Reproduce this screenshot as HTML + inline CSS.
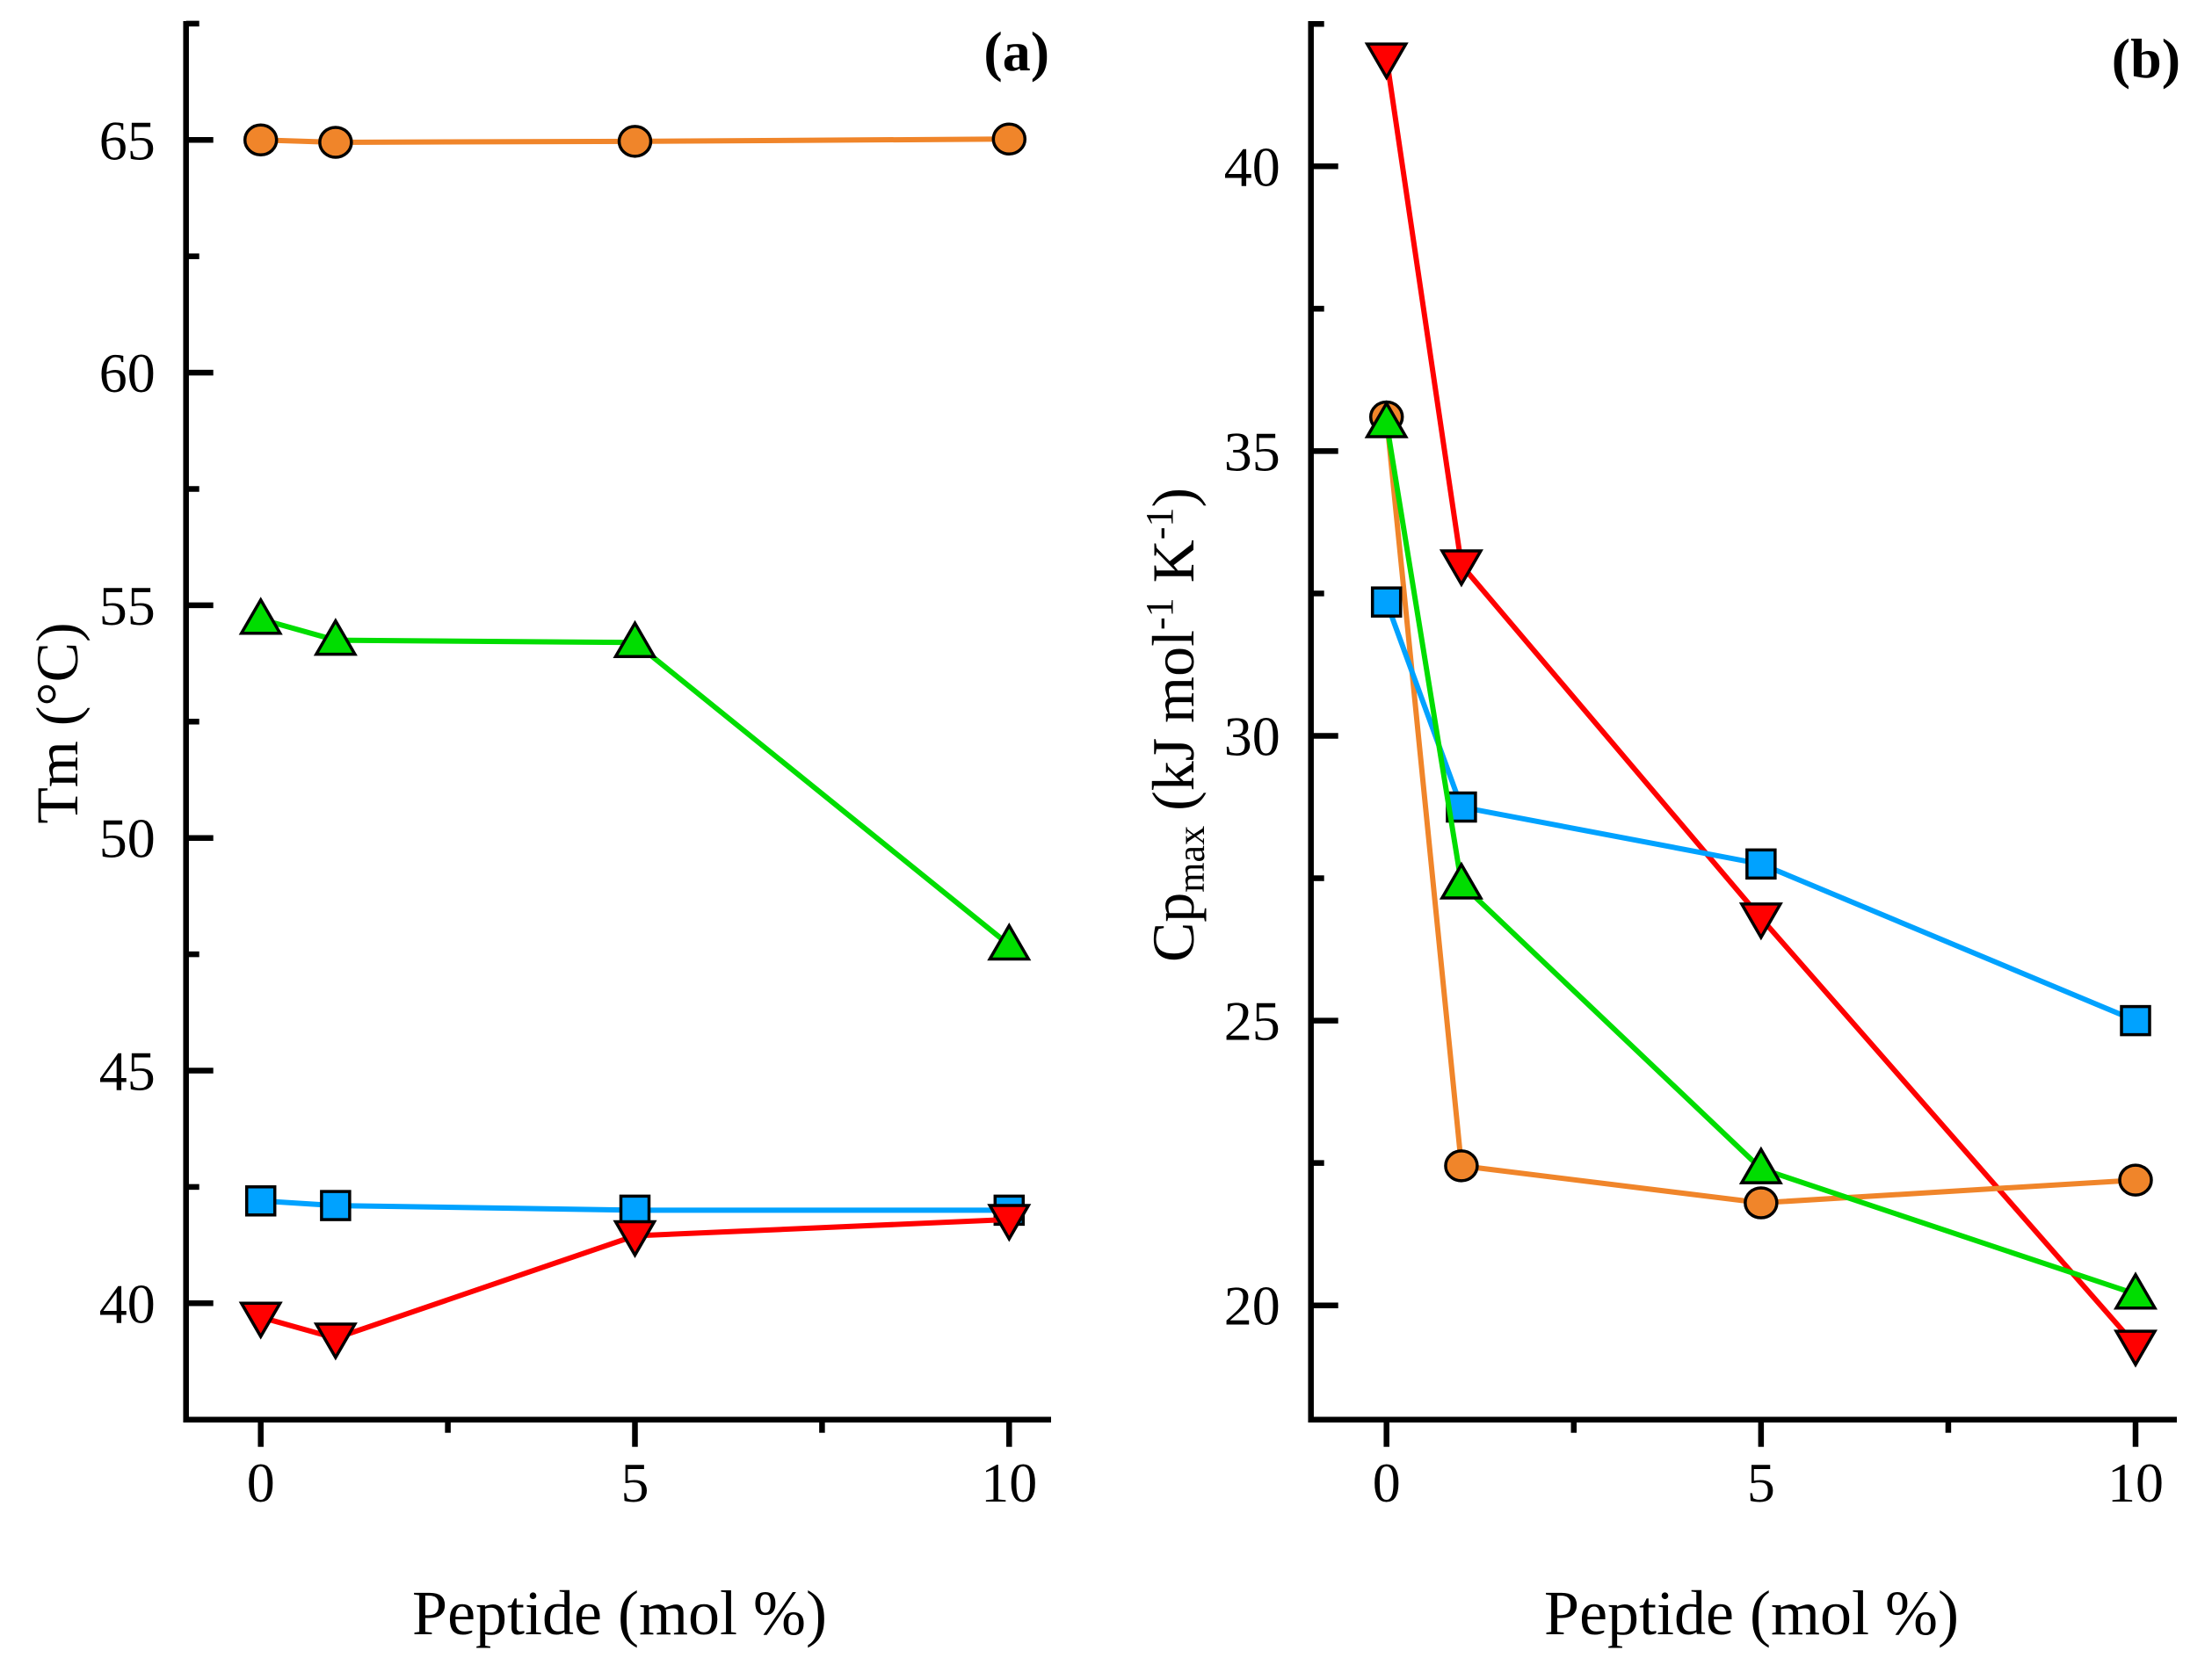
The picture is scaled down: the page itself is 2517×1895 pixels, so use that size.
<!DOCTYPE html>
<html><head><meta charset="utf-8"><style>
html,body{margin:0;padding:0;background:#fff;}
svg{display:block;font-family:"Liberation Serif",serif;}
</style></head><body>
<svg id="chart" width="2517" height="1895" viewBox="0 0 2517 1895" xmlns="http://www.w3.org/2000/svg"></svg>
<script>
const xCats = [0, 1, 5, 10];
const xTickLabels = [0, 5, 10];
const tmTicks = [40, 45, 50, 55, 60, 65];
const cpTicks = [20, 25, 30, 35, 40];
const tmOrange = [65.0, 64.95, 64.97, 65.02];
const tmGreen = [54.7, 54.25, 54.2, 47.7];
const tmBlue = [42.2, 42.1, 42.0, 42.0];
const tmRed = [39.7, 39.25, 41.45, 41.8];
const cpOrange = [35.6, 22.45, 21.8, 22.2];
const cpBlue = [32.35, 28.75, 27.75, 25.0];
const cpGreen = [35.5, 27.4, 22.4, 20.2];
const cpRed = [41.9, 33.0, 26.8, 19.3];

const NS = "http://www.w3.org/2000/svg";
const svg = document.getElementById('chart');
function mk(tag, attrs, parent){
  const e = document.createElementNS(NS, tag);
  for (const k in attrs) e.setAttribute(k, attrs[k]);
  (parent||svg).appendChild(e);
  return e;
}
const COL = {orange:'#F0852A', green:'#00DD00', blue:'#00A2FF', red:'#FF0000'};

function panel(cfg){
  const g = mk('g', {});
  
  
  const X = v => cfg.x0 + (v - 0) * (cfg.x10 - cfg.x0) / 10;
  const Y = v => cfg.yA + (v - cfg.vA) * (cfg.yB - cfg.yA) / (cfg.vB - cfg.vA);
  const ax = mk('path', {d:`M${cfg.axX},${cfg.top} L${cfg.axX},${cfg.bottom} L${cfg.right},${cfg.bottom}`, fill:'none', stroke:'#000', 'stroke-width':6.5}, g);
   
  for (let v = cfg.yMin; v <= cfg.yMax + 1e-6; v += 2.5) {
    if (Y(v) > cfg.bottom - 4 || Y(v) < cfg.top - 4) continue;
    const major = Math.abs(v/5 - Math.round(v/5)) < 1e-6;
    const t = mk('line', {x1:cfg.axX, x2:cfg.axX + (major?31:15), y1:Y(v), y2:Y(v), stroke:'#000', 'stroke-width':6.5}, g);
     
  }
  cfg.yTicks.forEach(v => {
    const t = mk('text', {x:cfg.axX - 35, y:Y(v) + 22, 'text-anchor':'end', 'font-size':64}, g);
    t.textContent = v;
     
  });
  [0, 2.5, 5, 7.5, 10].forEach(v => {
    const major = v % 5 === 0;
    const t = mk('line', {x1:X(v), x2:X(v), y1:cfg.bottom, y2:cfg.bottom + (major?31:15), stroke:'#000', 'stroke-width':6.5}, g);
     
  });
  xTickLabels.forEach(v => {
    const t = mk('text', {x:X(v), y:1709, 'text-anchor':'middle', 'font-size':64}, g);
    t.textContent = v;
     
  });
  const xt = mk('text', {x:cfg.xTitleX, y:1860, 'text-anchor':'middle', 'font-size':72}, g);
  xt.textContent = 'Peptide (mol %)';
   
  const yt = mk('text', {x:0, y:0, 'text-anchor':'middle', 'font-size':68, transform:`translate(${cfg.yTitleX},${cfg.yTitleY}) rotate(-90)`}, g);
  yt.innerHTML = cfg.yTitle;
   
  const pl = mk('text', {x:cfg.labelX, y:cfg.labelY, 'text-anchor':'end', 'font-size':64, 'font-weight':'bold'}, g);
  pl.textContent = cfg.label;
   
  cfg.series.forEach(s => {
    const sg = mk('g', {}, g);
    
    
    const pts = s.vals.map((v,i) => [X(xCats[i]), Y(v)]);
    const ln = mk('polyline', {points: pts.map(p=>p.join(',')).join(' '), fill:'none', stroke:COL[s.key], 'stroke-width':6}, sg);
     
    s.mpts = pts; s.g = sg;
  });
  cfg.series.forEach(s => {
    s.mpts.forEach(([x,y]) => {
      let m;
      const st = {fill:COL[s.key], stroke:'#000', 'stroke-width':3.5};
      if (s.shape === 'circle') m = mk('ellipse', Object.assign({cx:x, cy:y, rx:18, ry:17}, st), s.g);
      else if (s.shape === 'square') m = mk('rect', Object.assign({x:x-16, y:y-16, width:32, height:32}, st), s.g);
      else if (s.shape === 'up') m = mk('polygon', Object.assign({points:`${x},${y-22} ${x-22},${y+16} ${x+22},${y+16}`}, st), s.g);
      else m = mk('polygon', Object.assign({points:`${x},${y+22} ${x-22},${y-16} ${x+22},${y-16}`}, st), s.g);
      
      
    });
  });
}

panel({name:'panel-a-tm', x0:296.7, x10:1148.3, yA:1483.3, vA:40, yB:159.3, vB:65,
  axX:211.7, top:24, bottom:1615.7, right:1196, yMin:37.5, yMax:67.5, yTicks:tmTicks,
  xTitleX:705, yTitleX:88, yTitleY:823, yTitle:'Tm (°C)', label:'(a)', labelX:1194, labelY:80,
  series:[
    {key:'orange', vals:tmOrange, shape:'circle'},
    {key:'green', vals:tmGreen, shape:'up'},
    {key:'blue', vals:tmBlue, shape:'square'},
    {key:'red', vals:tmRed, shape:'down'}]});

panel({name:'panel-b-cp', x0:1577.7, x10:2430, yA:1485.7, vA:20, yB:189.3, vB:40,
  axX:1491.7, top:24, bottom:1615.7, right:2477, yMin:17.5, yMax:42.5, yTicks:cpTicks,
  xTitleX:1993, yTitleX:1358, yTitleY:825,
  yTitle:'Cp<tspan font-size="44" dy="12">max</tspan><tspan dy="-12"> (kJ mol</tspan><tspan font-size="44" dy="-24">-1</tspan><tspan dy="24"> K</tspan><tspan font-size="44" dy="-24">-1</tspan><tspan dy="24">)</tspan>',
  label:'(b)', labelX:2481, labelY:88,
  series:[
    {key:'red', vals:cpRed, shape:'down'},
    {key:'orange', vals:cpOrange, shape:'circle'},
    {key:'blue', vals:cpBlue, shape:'square'},
    {key:'green', vals:cpGreen, shape:'up'}]});
</script>
</body></html>
